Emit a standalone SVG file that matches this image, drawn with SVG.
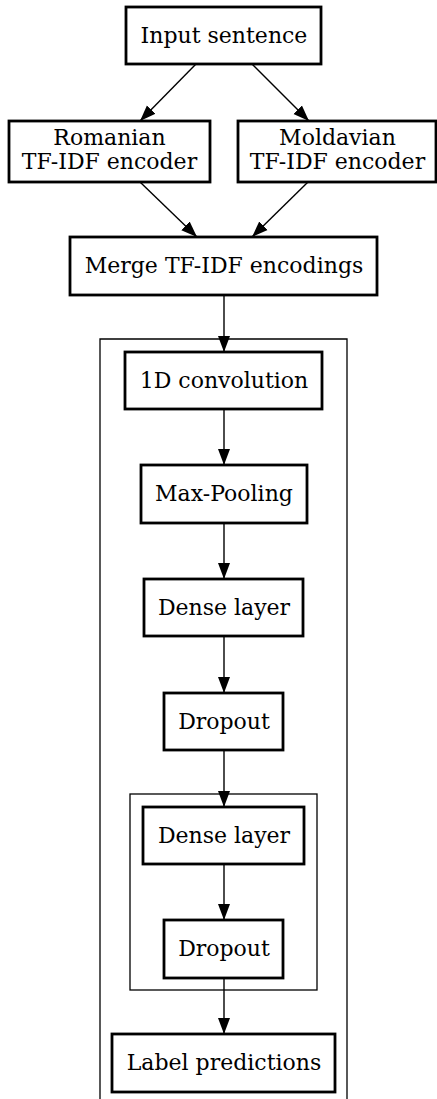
<svg xmlns="http://www.w3.org/2000/svg" width="437" height="1099" viewBox="0 0 437 1099">
<style>
.n{fill:#fff;stroke:#000;stroke-width:2.8}
.c{fill:none;stroke:#000;stroke-width:1.3}
.e{fill:none;stroke:#000;stroke-width:1.4}
text{font-family:"DejaVu Serif",serif;font-size:22px;fill:#000;text-anchor:middle}
</style>
<defs>
<marker id="a" markerUnits="userSpaceOnUse" markerWidth="17" markerHeight="14" refX="16" refY="7" orient="auto">
<path d="M0,1 L16,7 L0,13 Z" fill="#000"/>
</marker>
</defs>
<g id="clusters">
<path class="c" d="M100,1100 V339 H347 V1100"/>
<rect class="c" x="130" y="794" width="187" height="196"/>
</g>
<g id="connectors">
<line class="e" x1="196" y1="64" x2="140" y2="121" marker-end="url(#a)"/>
<line class="e" x1="252" y1="64" x2="309" y2="121" marker-end="url(#a)"/>
<line class="e" x1="140" y1="182" x2="197" y2="237" marker-end="url(#a)"/>
<line class="e" x1="308" y1="182" x2="252" y2="237" marker-end="url(#a)"/>
<line class="e" x1="224" y1="295" x2="224" y2="352" marker-end="url(#a)"/>
<line class="e" x1="224" y1="409" x2="224" y2="465" marker-end="url(#a)"/>
<line class="e" x1="224" y1="523" x2="224" y2="579" marker-end="url(#a)"/>
<line class="e" x1="224" y1="636" x2="224" y2="693" marker-end="url(#a)"/>
<line class="e" x1="224" y1="750" x2="224" y2="807" marker-end="url(#a)"/>
<line class="e" x1="224" y1="864" x2="224" y2="920" marker-end="url(#a)"/>
<line class="e" x1="224" y1="978" x2="224" y2="1034" marker-end="url(#a)"/>
</g>
<g id="input"><rect class="n" x="126" y="7" width="195" height="57"/><text x="224" y="42.5">Input sentence</text></g>
<g id="romanian"><rect class="n" x="9" y="121" width="201" height="61"/><text x="109.5" y="145">Romanian</text><text x="109.5" y="168.5">TF-IDF encoder</text></g>
<g id="moldavian"><rect class="n" x="238" y="121" width="198" height="61"/><text x="337.5" y="145">Moldavian</text><text x="337.5" y="168.5">TF-IDF encoder</text></g>
<g id="merge"><rect class="n" x="70" y="237" width="307" height="58"/><text x="224" y="273">Merge TF-IDF encodings</text></g>
<g id="conv"><rect class="n" x="125" y="352" width="197" height="57"/><text x="224" y="387.5">1D convolution</text></g>
<g id="maxpool"><rect class="n" x="141" y="465" width="166" height="58"/><text x="224" y="501">Max-Pooling</text></g>
<g id="dense1"><rect class="n" x="144" y="579" width="159" height="57"/><text x="224" y="614.5">Dense layer</text></g>
<g id="dropout1"><rect class="n" x="164" y="693" width="119" height="57"/><text x="224" y="728.5">Dropout</text></g>
<g id="dense2"><rect class="n" x="143" y="807" width="161" height="57"/><text x="224" y="842.5">Dense layer</text></g>
<g id="dropout2"><rect class="n" x="164" y="920" width="119" height="58"/><text x="224" y="956">Dropout</text></g>
<g id="labels"><rect class="n" x="112" y="1034" width="223" height="58"/><text x="224" y="1070">Label predictions</text></g>
</svg>
